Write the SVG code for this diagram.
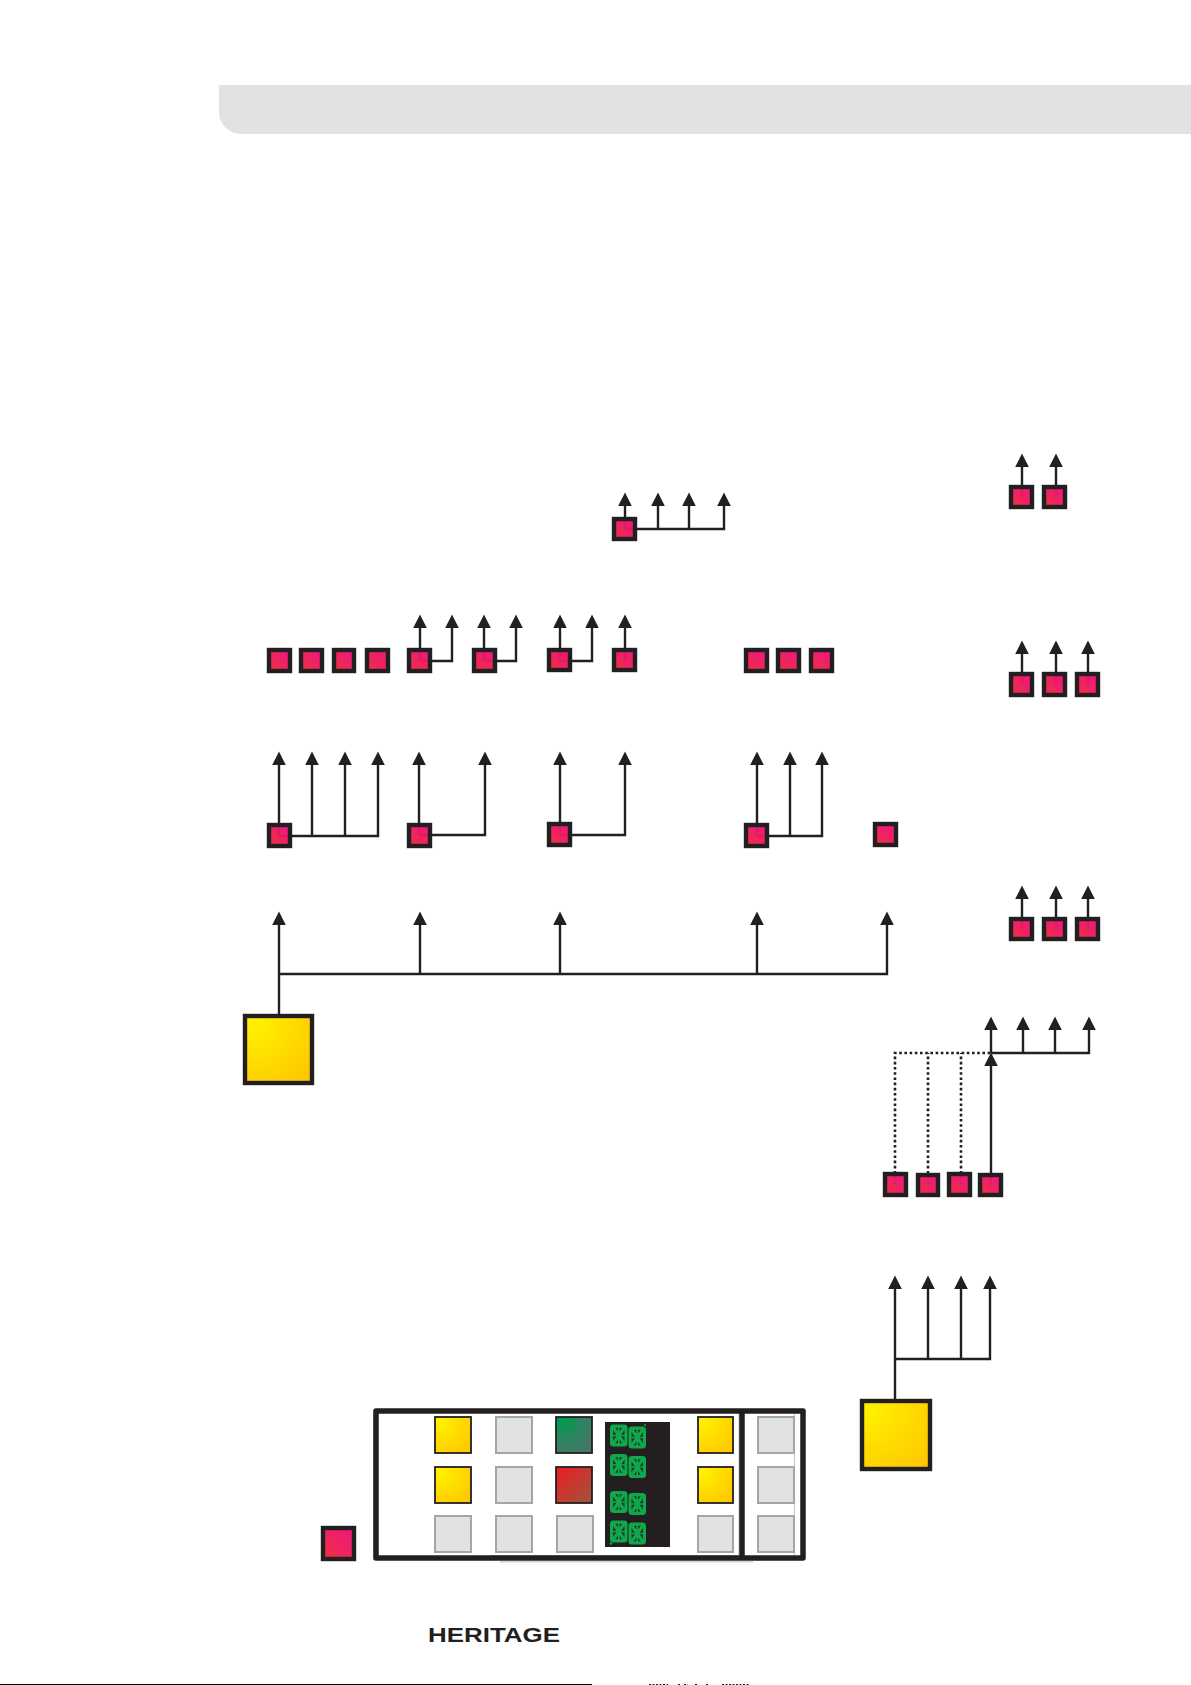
<svg xmlns="http://www.w3.org/2000/svg" xmlns:xlink="http://www.w3.org/1999/xlink" width="1191" height="1685" viewBox="0 0 1191 1685">
<style>
.c{fill:none;stroke:#231f20;stroke-width:2.4}
.a{marker-end:url(#arrow)}
.d{fill:none;stroke:#231f20;stroke-width:2.6;stroke-dasharray:2.6 2.6}
.p{fill:url(#pink);fill-opacity:.965;stroke:#231f20;stroke-width:4.4}
.y{fill:url(#yel);stroke:#231f20;stroke-width:4.4}
.ys{fill:url(#yel);stroke:#231f20;stroke-width:1.8}
.g{fill:#e1e2e4;stroke:#a5a5a8;stroke-width:2}
.f{fill:none;stroke:#231f20;stroke-width:5.5;stroke-linejoin:round}
.h{fill:none;stroke:#c9c9cb;stroke-width:1.2}
</style>
<defs>
<marker id="arrow" markerUnits="userSpaceOnUse" markerWidth="15" markerHeight="16" refX="0" refY="8" orient="auto">
<path d="M0 1.2 L13.5 8 L0 14.8 Z" fill="#231f20"/>
</marker>
<linearGradient id="pink" x1="1" y1="0" x2="0" y2="1"><stop offset="0" stop-color="#ec0c80"/><stop offset="1" stop-color="#ee2a38"/></linearGradient>
<radialGradient id="yel" cx="0.12" cy="0.12" r="1.2"><stop offset="0" stop-color="#fff200"/><stop offset="1" stop-color="#ffc400"/></radialGradient>
<radialGradient id="grn" cx="0.2" cy="0.1" r="1.1"><stop offset="0" stop-color="#009b4c"/><stop offset="0.45" stop-color="#2a8560"/><stop offset="1" stop-color="#467568"/></radialGradient>
<linearGradient id="red" x1="0" y1="0" x2="1" y2="1"><stop offset="0" stop-color="#ec1c24"/><stop offset="1" stop-color="#a0553c"/></linearGradient>
<g id="digit">
<rect x="0" y="0" width="17.5" height="22" rx="3.5" fill="#0fa84a"/>
<path fill="#231f20" fill-opacity=".8" d="M5.2 3.2H8V6.8ZM3 5.4V10.2H6.4ZM12.3 3.2H9.5V6.8ZM14.5 5.4V10.2H11.1ZM5.2 18.8H8V15.2ZM3 16.6V11.8H6.4ZM12.3 18.8H9.5V15.2ZM14.5 16.6V11.8H11.1Z"/>
</g>
<g id="pair"><use xlink:href="#digit" href="#digit"/><use xlink:href="#digit" href="#digit" x="18.5" y="2"/></g>
</defs>
<path id="band" d="M219 85H1191V134H241A22 22 0 0 1 219 112Z" fill="#e1e2e4"/>
<g id="connectors">
<path class="c a" d="M625 529V506"/><path class="c a" d="M625 529H724V506"/><path class="c a" d="M658 529V506"/><path class="c a" d="M689 529V506"/>
<path class="c a" d="M1022 497V467"/><path class="c a" d="M1056 497V467"/>
<path class="c a" d="M420 661V628"/><path class="c a" d="M420 661H452V628"/>
<path class="c a" d="M484 661V628"/><path class="c a" d="M484 661H516V628"/>
<path class="c a" d="M560 661V628"/><path class="c a" d="M560 661H592V628"/>
<path class="c a" d="M625 661V628"/>
<path class="c a" d="M1022 685V654"/><path class="c a" d="M1056 685V654"/><path class="c a" d="M1088 685V654"/>
<path class="c a" d="M279 836V765"/><path class="c a" d="M279 836H378V765"/><path class="c a" d="M312 836V765"/><path class="c a" d="M345 836V765"/>
<path class="c a" d="M419 835V765"/><path class="c a" d="M419 835H485V765"/>
<path class="c a" d="M560 835V765"/><path class="c a" d="M560 835H625V765"/>
<path class="c a" d="M757 836V765"/><path class="c a" d="M757 836H822V765"/><path class="c a" d="M790 836V765"/>
<path class="c a" d="M1022 930V899"/><path class="c a" d="M1056 930V899"/><path class="c a" d="M1088 930V899"/>
<path class="c a" d="M279 1016V925"/><path class="c a" d="M279 974H887V925"/><path class="c a" d="M420 974V925"/><path class="c a" d="M560 974V925"/><path class="c a" d="M757 974V925"/>
<path class="c a" d="M991 1053V1030"/><path class="c a" d="M991 1053H1089V1030"/><path class="c a" d="M1023 1053V1030"/><path class="c a" d="M1055 1053V1030"/>
<path class="c a" d="M991 1185V1066"/>
<path class="d" d="M895 1184V1053H991"/><path class="d" d="M928 1184V1053"/><path class="d" d="M961 1184V1053"/>
<path class="c a" d="M895 1401V1289"/><path class="c a" d="M895 1359H990V1289"/><path class="c a" d="M928 1359V1289"/><path class="c a" d="M961 1359V1289"/>
</g>
<g id="n-a1"><rect class="p" x="614" y="519" width="21" height="20"/></g>
<g id="n-b1"><rect class="p" x="1011" y="487" width="21" height="20"/></g>
<g id="n-b2"><rect class="p" x="1044" y="487" width="21" height="20"/></g>
<g id="n-r1"><rect class="p" x="269" y="650" width="21" height="21"/></g>
<g id="n-r2"><rect class="p" x="301" y="650" width="21" height="21"/></g>
<g id="n-r3"><rect class="p" x="334" y="650" width="20" height="21"/></g>
<g id="n-r4"><rect class="p" x="367" y="650" width="21" height="21"/></g>
<g id="n-r5"><rect class="p" x="409" y="650" width="21" height="21"/></g>
<g id="n-r6"><rect class="p" x="474" y="650" width="21" height="21"/></g>
<g id="n-r7"><rect class="p" x="549" y="650" width="21" height="20"/></g>
<g id="n-r8"><rect class="p" x="614" y="650" width="21" height="20"/></g>
<g id="n-r9"><rect class="p" x="746" y="650" width="21" height="21"/></g>
<g id="n-r10"><rect class="p" x="778" y="650" width="21" height="21"/></g>
<g id="n-r11"><rect class="p" x="811" y="650" width="21" height="21"/></g>
<g id="n-c1"><rect class="p" x="1011" y="674" width="21" height="21"/></g>
<g id="n-c2"><rect class="p" x="1044" y="674" width="21" height="21"/></g>
<g id="n-c3"><rect class="p" x="1077" y="674" width="21" height="21"/></g>
<g id="n-s1"><rect class="p" x="269" y="825" width="21" height="21"/></g>
<g id="n-s2"><rect class="p" x="409" y="825" width="21" height="21"/></g>
<g id="n-s3"><rect class="p" x="549" y="824" width="21" height="21"/></g>
<g id="n-s4"><rect class="p" x="746" y="825" width="21" height="21"/></g>
<g id="n-s5"><rect class="p" x="875" y="824" width="21" height="21"/></g>
<g id="n-e1"><rect class="p" x="1011" y="919" width="21" height="20"/></g>
<g id="n-e2"><rect class="p" x="1044" y="919" width="21" height="20"/></g>
<g id="n-e3"><rect class="p" x="1077" y="919" width="21" height="20"/></g>
<g id="n-big1"><rect class="y" x="245" y="1016" width="67" height="67"/></g>
<g id="n-f1"><rect class="p" x="885" y="1174" width="21" height="21"/></g>
<g id="n-f2"><rect class="p" x="918" y="1175" width="20" height="20"/></g>
<g id="n-f3"><rect class="p" x="949" y="1174" width="21" height="21"/></g>
<g id="n-f4"><rect class="p" x="980" y="1175" width="21" height="20"/></g>
<g id="n-big2"><rect class="y" x="862" y="1401" width="68" height="68"/></g>
<g id="n-pink"><rect class="p" x="323" y="1528" width="31" height="31"/></g>
<g id="panel">
<path class="h" d="M373.6 1412V1560M739 1414V1555M489 1555.5H739M500 1561.8H753M794.5 1414V1555"/>
<rect class="f" x="376" y="1411" width="427" height="147"/>
<path class="f" d="M742 1411V1558"/>
<rect class="ys" x="435" y="1417" width="36" height="36"/>
<rect class="g" x="496" y="1417" width="36" height="36"/>
<rect x="556" y="1417" width="36" height="36" fill="url(#grn)" stroke="#231f20" stroke-width="1.8"/>
<rect class="ys" x="698" y="1417" width="35" height="36"/>
<rect class="g" x="758" y="1417" width="36" height="36"/>
<rect class="ys" x="435" y="1467" width="36" height="36"/>
<rect class="g" x="496" y="1467" width="36" height="36"/>
<rect x="556" y="1467" width="36" height="36" fill="url(#red)" stroke="#231f20" stroke-width="1.8"/>
<rect class="ys" x="698" y="1467" width="35" height="36"/>
<rect class="g" x="758" y="1467" width="36" height="36"/>
<rect class="g" x="435" y="1516" width="36" height="36"/>
<rect class="g" x="496" y="1516" width="36" height="36"/>
<rect class="g" x="557" y="1516" width="36" height="36"/>
<rect class="g" x="698" y="1516" width="35" height="36"/>
<rect class="g" x="758" y="1516" width="36" height="36"/>
<rect x="605" y="1422" width="65" height="125" fill="#231f20"/>
<use xlink:href="#pair" href="#pair" x="610" y="1424.5"/>
<use xlink:href="#pair" href="#pair" x="610" y="1454"/>
<use xlink:href="#pair" href="#pair" x="610" y="1491"/>
<use xlink:href="#pair" href="#pair" x="610" y="1520.5"/>
<circle cx="645" cy="1425" r="1" fill="#0fa84a"/>
<circle cx="611" cy="1543.5" r="1.3" fill="#0fa84a"/>
</g>
<text id="logo" x="428" y="1642" font-family="'Liberation Sans',Arial,sans-serif" font-size="21" font-weight="700" fill="#231f20" textLength="132" lengthAdjust="spacingAndGlyphs">HERITAGE</text>
<g id="footer">
<rect x="0" y="1684" width="592" height="1" fill="#000"/>
<path d="M649 1684.5H668M678 1684.5H680M684 1684.5H688M695 1684.5H697M706 1684.5H708M722 1684.5H750" stroke="#231f20" stroke-width="1" stroke-dasharray="2 1.5" fill="none"/>
</g>
</svg>
